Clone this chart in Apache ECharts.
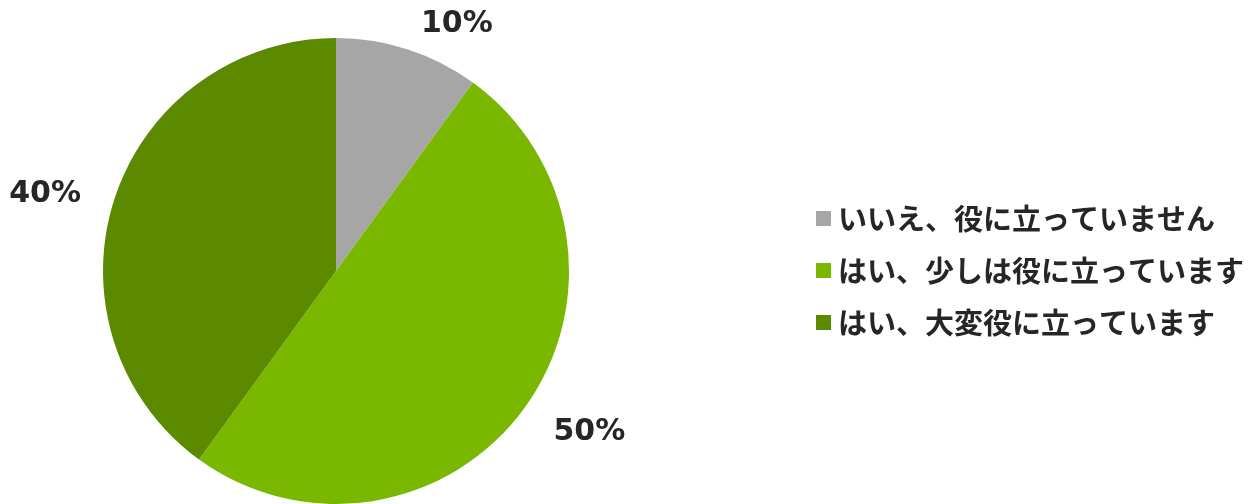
<!DOCTYPE html>
<html><head><meta charset="utf-8">
<script src="https://cdn.jsdelivr.net/npm/echarts@6/dist/echarts.min.js"></script>
<style>html,body{margin:0;padding:0;background:#fff}#c{width:1248px;height:504px}</style>
</head><body><div id="c"></div>
<script>
const categories = ['いいえ、役に立っていません', 'はい、少しは役に立っています', 'はい、大変役に立っています'];
const values = [10, 50, 40];
const colors = ['#a6a6a6', '#7ab800', '#5b8a00'];

const chart = echarts.init(document.getElementById('c'), null, {renderer: 'canvas'});
chart.setOption({
  animation: false,
  color: colors,
  legend: {
    orient: 'vertical',
    left: 811,
    top: 199,
    itemWidth: 15,
    itemHeight: 15,
    itemGap: 23,
    icon: 'rect',
    data: categories,
    textStyle: {
      fontFamily: '"Noto Sans CJK JP", sans-serif',
      fontWeight: 'bold',
      fontSize: 29,
      color: '#262626',
      padding: [0, 0, 0, 2]
    }
  },
  series: [{
    type: 'pie',
    center: [336, 271],
    radius: 233,
    startAngle: 90,
    clockwise: true,
    avoidLabelOverlap: false,
    data: categories.map((n, i) => ({name: n, value: values[i]})),
    label: {
      show: true,
      position: 'outside',
      formatter: p => Math.round(p.percent) + '%',
      fontFamily: '"DejaVu Sans", Verdana, sans-serif',
      fontWeight: 'bold',
      fontSize: 30,
      color: '#262626',
      distanceToLabelLine: 3
    },
    labelLayout: {dy: 5},
    labelLine: {show: false, length: 32, length2: 0},
    itemStyle: {borderWidth: 0}
  }]
});
</script></body></html>
